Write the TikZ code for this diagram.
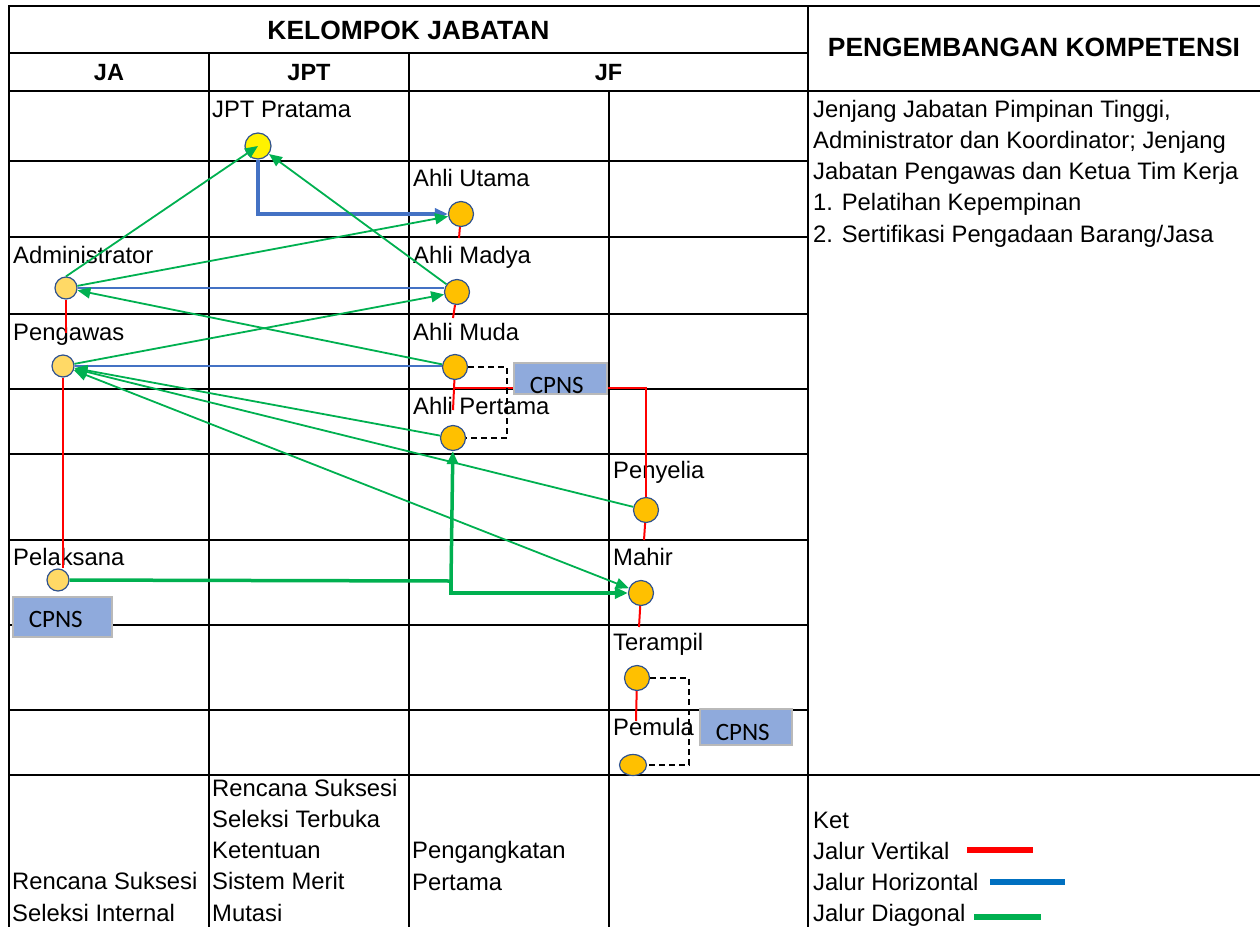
\documentclass[tikz,border=0pt]{standalone}
\usepackage{fontspec}
\setmainfont{Liberation Sans}
\newfontfamily\carlito{Carlito}
\usetikzlibrary{arrows.meta, positioning, shapes.geometric}

\definecolor{jfOrange}{HTML}{FFC000}
\definecolor{jaOrange}{HTML}{FFD966}
\definecolor{rimBlue}{HTML}{2F528F}
\definecolor{horBlue}{HTML}{4472C4}
\definecolor{diagGreen}{HTML}{00B050}
\definecolor{cpnsBlue}{HTML}{8FAADC}
\definecolor{legBlue}{HTML}{0070C0}

\begin{document}
\begin{tikzpicture}[
    x=1pt, y=-1pt,
    >={Triangle[length=13pt, width=11pt]},
    tableline/.style={line width=2.2pt, line cap=rect},
    head/.style={anchor=base, inner sep=0pt, font=\bfseries\fontsize{23.5}{28}\selectfont},
    bighead/.style={head, font=\bfseries\fontsize{26.4}{30}\selectfont},
    cell/.style={anchor=base west, inner sep=0pt, align=left, font=\fontsize{23.8}{31.2}\selectfont},
    post/.style={circle, draw=rimBlue, line width=1.2pt, fill=jfOrange, minimum size=25pt, inner sep=0pt},
    japost/.style={post, fill=jaOrange, minimum size=22pt},
    cpns/.style={anchor=north west, draw=gray!55, line width=1.5pt, fill=cpnsBlue, inner xsep=16pt, inner ysep=0pt, align=left, font=\carlito\fontsize{25}{30}\selectfont},
    swatch/.style={rectangle, inner sep=0pt, minimum height=6pt},
    vert/.style={red, line width=2pt},
    hor/.style={horBlue, line width=1.8pt},
    diag/.style={diagGreen, line width=1.8pt, ->},
    dashline/.style={line width=1.4pt, dash pattern=on 6pt off 4pt},
]
\useasboundingbox (0,0) rectangle (1260,926);

% Table
\draw[tableline] (9,6) -- (1260,6);
\draw[tableline] (9,53) -- (808,53);
\draw[tableline] (9,91) -- (1260,91);
\foreach \y in {161,237,314,389,454,540,625,710}
    \draw[tableline] (9,\y) -- (808,\y);
\draw[tableline] (9,775) -- (1260,775);
\foreach \x in {9,808}
    \draw[tableline] (\x,6) -- (\x,930);
\foreach \x in {209,409}
    \draw[tableline] (\x,53) -- (\x,930);
\draw[tableline] (609,91) -- (609,930);

% Headers
\node[bighead] (kelompok) at (408.5,39) {KELOMPOK JABATAN};
\node[head] (ja) at (109,80) {JA};
\node[head] (jpt) at (309,80) {JPT};
\node[head] (jf) at (608.5,80) {JF};
\node[bighead] (kompetensi) at (1034,56) {PENGEMBANGAN KOMPETENSI};

% Labels (multi-line nodes sit on their last line)
\node[cell] (lpratama) at (212,117) {JPT Pratama};
\node[cell] (lutama) at (413,186) {Ahli Utama};
\node[cell] (ladmin) at (13,263) {Administrator};
\node[cell] (lmadya) at (413,263) {Ahli Madya};
\node[cell] (lpengawas) at (13,340) {Pengawas};
\node[cell] (lmuda) at (413,340) {Ahli Muda};
\node[cell] (lpertama) at (413,414) {Ahli Pertama};
\node[cell] (lpenyelia) at (613,478) {Penyelia};
\node[cell] (lpelaksana) at (13,565) {Pelaksana};
\node[cell] (lmahir) at (613,565) {Mahir};
\node[cell] (lterampil) at (613,650) {Terampil};
\node[cell] (lpemula) at (613,735) {Pemula};
\node[cell] (materi) at (813,242) {Jenjang Jabatan Pimpinan Tinggi,\\Administrator dan Koordinator; Jenjang\\Jabatan Pengawas dan Ketua Tim Kerja\\1. Pelatihan Kepempinan\\2. Sertifikasi Pengadaan Barang/Jasa};

% Nodes
\node[post, fill=yellow, minimum size=26pt] (pratama) at (258,146) {};
\node[post] (utama) at (461,214) {};
\node[post] (madya) at (457,292) {};
\node[post] (muda) at (455,367) {};
\node[post] (pertama) at (453,438) {};
\node[post] (penyelia) at (646,510) {};
\node[post] (mahir) at (641,593) {};
\node[post] (terampil) at (637,678) {};
\node[post, ellipse, minimum width=27pt, minimum height=21pt] (pemula) at (633,765) {};
\node[japost] (admin) at (66,288) {};
\node[japost] (pengawas) at (63,366) {};
\node[japost] (pelaksana) at (58,580) {};

% CPNS boxes
\node[cpns, text width=67pt, text height=31pt, text depth=9pt] (cpnsja) at (12,596) {CPNS};
\node[cpns, text width=61pt, text height=31pt, text depth=0pt] (cpnsahli) at (513,362) {CPNS};
\node[cpns, text width=60pt, text height=32pt, text depth=4pt] (cpnsterampil) at (699,708) {CPNS};

% Jalur vertikal
\coordinate (adminEnd) at (66,333);
\coordinate (utamaEnd) at (459,238);
\coordinate (madyaEnd) at (453,318);
\coordinate (mudaEnd) at (453,410);
\coordinate (mudaJoin) at (453,388);
\coordinate (penyeliaEnd) at (644,540);
\coordinate (mahirEnd) at (639,627);
\coordinate (terampilEnd) at (636,721);
\draw[vert] (admin) -- (adminEnd);
\draw[vert] (pengawas.south) -- (pengawas.south |- pelaksana.north);
\draw[vert] (utama) -- (utamaEnd);
\draw[vert] (madya) -- (madyaEnd);
\draw[vert] (muda) -- (mudaEnd);
\draw[vert] (mudaJoin) -- (mudaJoin -| cpnsahli.west);
\draw[vert] (mudaJoin -| cpnsahli.east) -| (penyelia);
\draw[vert] (penyelia) -- (penyeliaEnd);
\draw[vert] (mahir) -- (mahirEnd);
\draw[vert] (terampil) -- (terampilEnd);

% CPNS entry (dashed)
\coordinate (dashA) at (507,438);
\coordinate (dashB) at (689,765);
\draw[dashline] (muda.east) -| (dashA) -- (pertama.east);
\draw[dashline] (terampil.east) -| (dashB) -- (pemula.east);

% Jalur horizontal
\draw[hor] (admin) -- (admin -| madya.west);
\draw[hor] (pengawas) -- (pengawas -| muda.west);
\draw[hor, line width=4pt, ->] (pratama.south) |- (utama.west);

% Jalur diagonal
\draw[diag] (admin.north) -- (pratama.center);
\draw[diag] (madya) -- (pratama);
\draw[diag] (admin) -- (utama);
\draw[diag] (muda) -- (admin);
\draw[diag] (pengawas) -- (madya);
\draw[diag] (pertama) -- (pengawas);
\draw[diag] (penyelia) -- (pengawas);
\draw[diag, <->] (pengawas) -- (mahir);
\coordinate (split) at (451,581);
\draw[diag, line width=3.5pt] (pelaksana) -- (split) -- (pertama);
\draw[diag, line width=3.5pt] (split) |- (mahir);

% Bottom row
\node[cell] (seleksija) at (12,921) {Rencana Suksesi\\Seleksi Internal};
\node[cell] (seleksijpt) at (212,921) {Rencana Suksesi\\Seleksi Terbuka\\Ketentuan\\Sistem Merit\\Mutasi};
\node[cell] (angkatjf) at (412,890) {Pengangkatan\\Pertama};

% Legend
\node[cell] (ket) at (813,828) {Ket};
\node[cell] (lvert) at (813,859) {Jalur Vertikal};
\node[cell] (lhor) at (813,890) {Jalur Horizontal};
\node[cell] (ldiag) at (813,921) {Jalur Diagonal};
\node[swatch, fill=red, minimum width=66pt] (swvert) at (1000,850) {};
\node[swatch, fill=legBlue, minimum width=75pt] (swhor) at (1027.5,882) {};
\node[swatch, fill=diagGreen, minimum width=67pt] (swdiag) at (1007.5,917) {};

\end{tikzpicture}
\end{document}
